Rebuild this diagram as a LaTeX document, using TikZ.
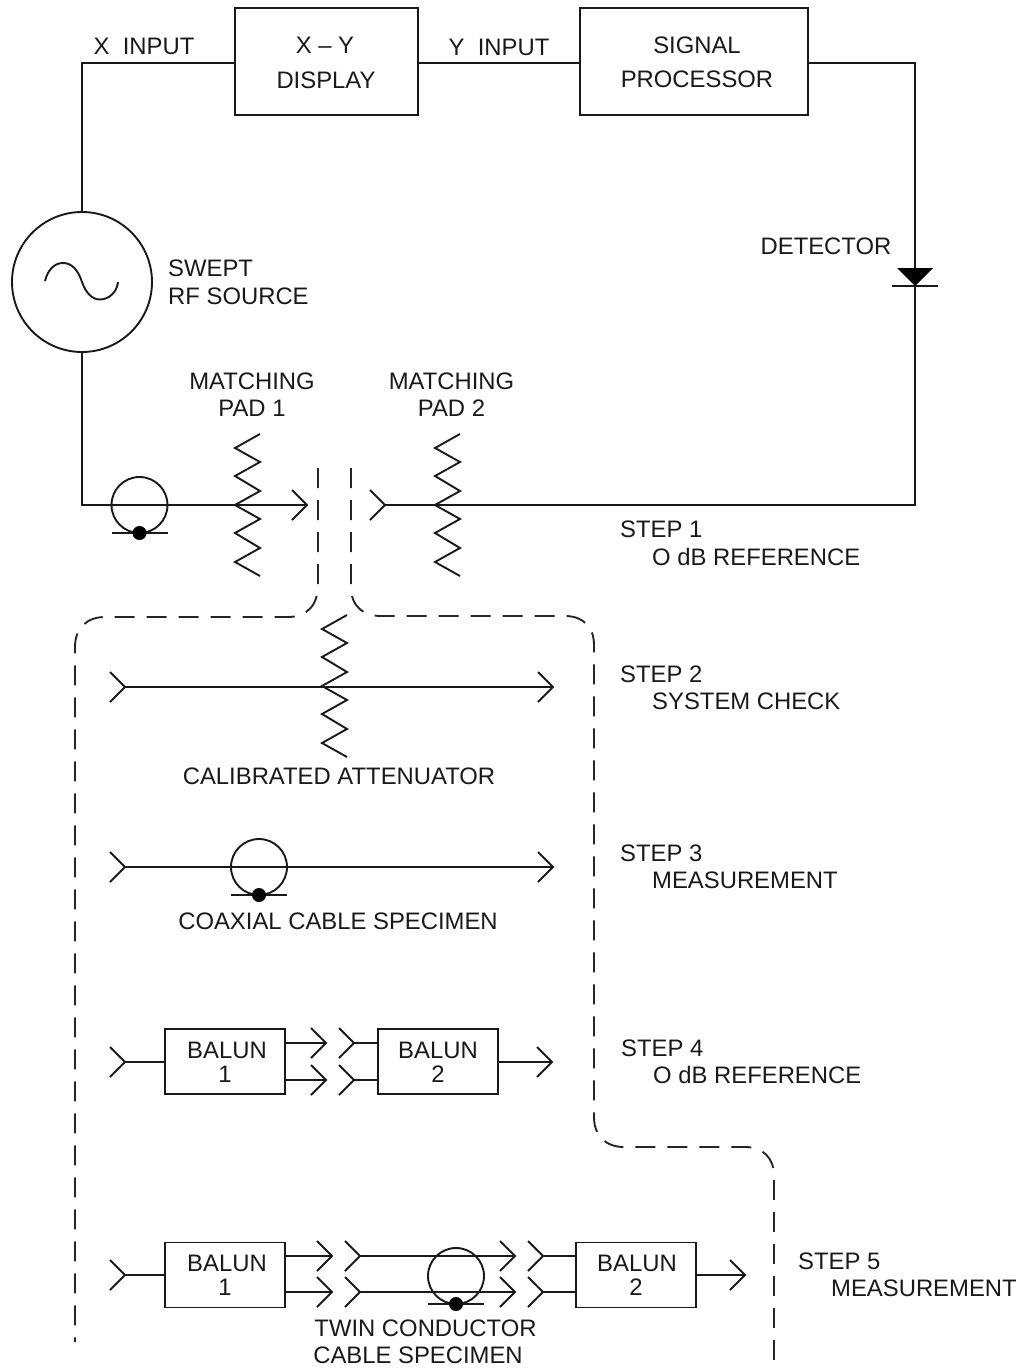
\documentclass[tikz,border=0pt]{standalone}
\usepackage{fontspec}
\setmainfont{Liberation Sans}
\begin{document}
\begin{tikzpicture}[x=1pt,y=-1pt,line join=miter,
  wire/.style={line width=1.9pt,black!90},
  box/.style={draw=black!90,line width=1.9pt,fill=white,minimum width=#1,inner sep=0pt},
  lbl/.style={inner sep=0pt,font=\fontsize{23.85}{27}\selectfont,align=center,text=black!90},
  lbll/.style={lbl,align=left,anchor=west},
  dash line/.style={line width=1.9pt,black!85,dash pattern=on 20pt off 12pt},
  chev/.pic={\draw[wire] (-15,-15) -- (0,0) -- (-15,15);},
  zig/.pic={\draw[wire] (25,-71) -- (0,-57) -- (25,-43) -- (0,-29) -- (25,-14) -- (0,0) -- (25,14) -- (0,28) -- (25,43) -- (0,57) -- (25,71);},
  cable/.pic={\draw[wire] (0,0) circle[radius=28];
    \draw[wire] (-28,28) -- (28,28);
    \fill[black] (0,28) circle[radius=7];}
]
\useasboundingbox (0,0) rectangle (1021,1370);
% top boxes
\node[box=183pt,minimum height=107pt] (xy) at (326.5,61.5) {};
\node[lbl] at (325,45.5) {X -- Y};
\node[lbl] at (326,80) {DISPLAY};
\node[box=228pt,minimum height=107pt] (sp) at (694,61.5) {};
\node[lbl] at (697,45.5) {SIGNAL};
\node[lbl] at (697,79) {PROCESSOR};
\node[lbl] (xin) at (144,46.5) {X\ \ INPUT};
\node[lbl] (yin) at (499,47) {Y\ \ INPUT};
% source
\node[draw=black!90,line width=1.9pt,circle,minimum size=140pt,inner sep=0pt] (src) at (82,282) {};
\draw[wire] (45,281) .. controls (48,269) and (55,263) .. (63,263) .. controls (72,263) and (78,270) .. (82,282) .. controls (86,293) and (92,299.5) .. (100,299.5) .. controls (109,299.5) and (117,292) .. (118,282);
\node[lbll] at (168,268.5) {SWEPT};
\node[lbll] at (168,296.5) {RF SOURCE};
% junctions
\coordinate (c1) at (82,63);
\coordinate (c2) at (82,505);
\coordinate (c3) at (915,63);
\coordinate (c4) at (915,505);
\coordinate (tip1) at (307,505);
\coordinate (in2) at (385,505);
\draw[wire] (src.north) -- (c1) -- (xy.west |- c1);
\draw[wire] (xy.east |- c1) -- (sp.west |- c1);
\draw[wire] (sp.east |- c3) -- (c3) -- (c4) -- (in2);
\draw[wire] (src.south) -- (c2) -- (tip1);
% detector
\node[lbl] at (826,246.5) {DETECTOR};
\coordinate (d1) at (897,268);\coordinate (d2) at (933,268);\coordinate (d3) at (915,286);
\fill[black] (d1) -- (d2) -- (d3) -- cycle;
\draw[wire] (892,286) -- (938,286);
% step 1 parts
\pic at (tip1) {chev};
\pic at (in2) {chev};
\pic at (139.5,505) {cable};
\pic at (235,505) {zig};
\pic at (435,505) {zig};
\node[lbl] at (252,381) {MATCHING};
\node[lbl] at (252,408) {PAD 1};
\node[lbl] at (451.5,381) {MATCHING};
\node[lbl] at (451.5,408) {PAD 2};
\node[lbll] at (620,529.5) {STEP 1};
\node[lbll] at (652,557) {O dB REFERENCE};
% dashed
\draw[dash line] (318,468) -- (318,585) .. controls (318,606) and (306,617) .. (288,617) -- (105,617) .. controls (87,617) and (75,628) .. (75,647) -- (75,1342);
\draw[dash line] (351,468) -- (351,587) .. controls (351,606) and (363,616) .. (381,616) -- (565,616) .. controls (583,616) and (594,627) .. (594,645) -- (594,1117) .. controls (594,1136) and (606,1147) .. (624,1147) -- (745,1147) .. controls (763,1147) and (774,1158) .. (774,1176) -- (774,1360);
% step 2
\coordinate (s2a) at (125,687);\coordinate (s2b) at (553,687);
\draw[wire] (s2a) -- (s2b);
\pic at (s2a) {chev};\pic at (s2b) {chev};
\pic at (322,686) {zig};
\node[lbl] at (339,776) {CALIBRATED ATTENUATOR};
\node[lbll] at (620,674.5) {STEP 2};
\node[lbll] at (652,701) {SYSTEM CHECK};
% step 3
\coordinate (s3a) at (125,867);\coordinate (s3b) at (553,867);
\draw[wire] (s3a) -- (s3b);
\pic at (s3a) {chev};\pic at (s3b) {chev};
\pic at (259,867) {cable};
\node[lbl] at (338,921) {COAXIAL CABLE SPECIMEN};
\node[lbll] at (620,853.5) {STEP 3};
\node[lbll] at (652,880) {MEASUREMENT};
% step 4
\node[box=120pt,minimum height=65pt] (b41) at (225,1061.5) {};
\node[lbl] at (227,1050) {BALUN};
\node[lbl] at (225,1074) {1};
\node[box=120pt,minimum height=65pt] (b42) at (438,1061.5) {};
\node[lbl] at (438,1050) {BALUN};
\node[lbl] at (438,1074) {2};
\coordinate (s4a) at (125,1062);\coordinate (s4b) at (552,1062);
\coordinate (s4c) at (326,1043);\coordinate (s4d) at (326,1080);
\coordinate (s4e) at (354,1043);\coordinate (s4f) at (354,1080);
\draw[wire] (s4a) -- (b41.west |- s4a);
\draw[wire] (b41.east |- s4c) -- (s4c);
\draw[wire] (b41.east |- s4d) -- (s4d);
\draw[wire] (s4e) -- (b42.west |- s4e);
\draw[wire] (s4f) -- (b42.west |- s4f);
\draw[wire] (b42.east |- s4b) -- (s4b);
\foreach \n in {s4a,s4b,s4c,s4d,s4e,s4f} \pic at (\n) {chev};
\node[lbll] at (621,1048.5) {STEP 4};
\node[lbll] at (653,1075) {O dB REFERENCE};
% step 5
\node[box=120pt,minimum height=65pt] (b51) at (225,1275) {};
\node[lbl] at (227,1263) {BALUN};
\node[lbl] at (225,1287) {1};
\node[box=120pt,minimum height=65pt] (b52) at (636,1275) {};
\node[lbl] at (637,1263) {BALUN};
\node[lbl] at (636,1287) {2};
\coordinate (s5a) at (125,1275);\coordinate (s5b) at (745,1275);
\coordinate (s5c) at (332,1256);\coordinate (s5d) at (332,1292);
\coordinate (s5e) at (360,1256);\coordinate (s5f) at (360,1292);
\coordinate (s5g) at (515,1256);\coordinate (s5h) at (515,1292);
\coordinate (s5i) at (543,1256);\coordinate (s5j) at (543,1292);
\draw[wire] (s5a) -- (b51.west |- s5a);
\draw[wire] (b51.east |- s5c) -- (s5c);
\draw[wire] (b51.east |- s5d) -- (s5d);
\draw[wire] (s5e) -- (s5g);
\draw[wire] (s5f) -- (s5h);
\draw[wire] (s5i) -- (b52.west |- s5i);
\draw[wire] (s5j) -- (b52.west |- s5j);
\draw[wire] (b52.east |- s5b) -- (s5b);
\foreach \n in {s5a,s5b,s5c,s5d,s5e,s5f,s5g,s5h,s5i,s5j} \pic at (\n) {chev};
\pic at (456,1276) {cable};
\node[lbl] at (425.5,1328.5) {TWIN CONDUCTOR};
\node[lbl] at (418,1355.5) {CABLE SPECIMEN};
\node[lbll] at (798,1261.5) {STEP 5};
\node[lbll] at (831,1288) {MEASUREMENT};
\end{tikzpicture}
\end{document}
